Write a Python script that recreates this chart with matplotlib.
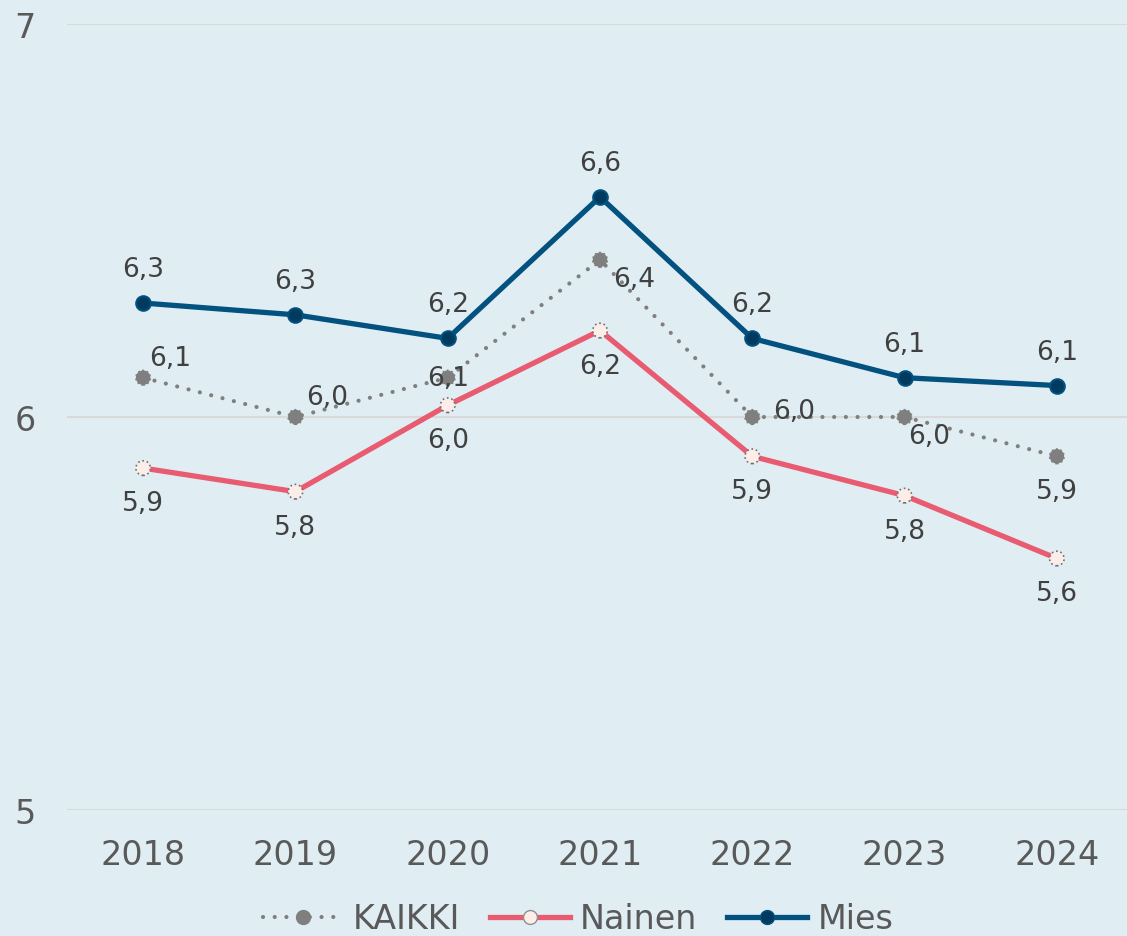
import matplotlib
matplotlib.use("Agg")
import matplotlib.pyplot as plt
from matplotlib.lines import Line2D

years = ["2018", "2019", "2020", "2021", "2022", "2023", "2024"]
kaikki = [6.10, 6.00, 6.10, 6.40, 6.00, 6.00, 5.90]
nainen = [5.87, 5.81, 6.03, 6.22, 5.90, 5.80, 5.64]
mies = [6.29, 6.26, 6.20, 6.56, 6.20, 6.10, 6.08]
yticks = [5, 6, 7]

BG = "#E0EDF3"
C_MIES = "#02517F"
C_MIES_FILL = "#003A5E"
C_NAI = "#E85B70"
C_NAI_FILL = "#FCEDE9"
C_KAI = "#7F7F7F"
TXT = "#595959"
LBL = "#404040"

plt.rcParams["font.family"] = ["DejaVu Sans"]

W, H = 1127, 937
fig = plt.figure(figsize=(W / 100, H / 100), dpi=100, facecolor=BG)
ax = fig.add_axes([67 / W, (H - 811) / H, 1066 / W, 786 / H], facecolor=BG)

x = list(range(len(years)))

# KAIKKI dotted
ax.plot(x, kaikki, color=C_KAI, lw=3.0, linestyle=(0, (0.01, 2.8)),
        dash_capstyle="round", zorder=3)
ax.scatter(x, kaikki, s=110, color=C_KAI, edgecolors=C_KAI, linewidths=1.2,
           linestyles=":", zorder=4)
# Nainen
ax.plot(x, nainen, color=C_NAI, lw=3.8, solid_capstyle="round", zorder=3)
ax.scatter(x, nainen, s=110, color=C_NAI_FILL, edgecolors="#707070",
           linewidths=1.2, linestyles=":", zorder=4)
# Mies
ax.plot(x, mies, color=C_MIES, lw=3.8, solid_capstyle="round", zorder=5)
ax.scatter(x, mies, s=110, color=C_MIES_FILL, edgecolors=C_MIES,
           linewidths=1.5, zorder=6)

def fmt(v):
    return f"{v:.1f}".replace(".", ",")

fs_lbl = 19
for i, v in enumerate(mies):
    ax.annotate(fmt(v), (i, v), xytext=(0, 34), textcoords="offset pixels",
                ha="center", va="center", fontsize=fs_lbl, color=LBL, zorder=7)
for i, v in enumerate(nainen):
    ax.annotate(fmt(v), (i, v), xytext=(0, -35), textcoords="offset pixels",
                ha="center", va="center", fontsize=fs_lbl, color=LBL, zorder=7)
k_off = [(27, 20), (32, 20), (0, 0), (34, -19), (42, 6), (25, -19), (0, -35)]
for i, v in enumerate(kaikki):
    dx, dy = k_off[i]
    ax.annotate(fmt(v), (i, v), xytext=(dx, dy), textcoords="offset pixels",
                ha="center", va="center", fontsize=fs_lbl, color=LBL, zorder=7)

ax.set_xlim(-0.5, len(years) - 0.5)
ax.set_ylim(5, 7)
ax.set_yticks(yticks)
ax.set_yticklabels([str(t) for t in yticks])
ax.set_xticks(x)
ax.set_xticklabels(years)
ax.tick_params(axis="both", length=0, labelsize=24, colors=TXT)
ax.tick_params(axis="x", pad=20)
for lab in ax.get_yticklabels():
    lab.set_horizontalalignment("center")
ax.tick_params(axis="y", pad=30)
ax.grid(axis="y", color="#D9D9D9", lw=1.5)
ax.set_axisbelow(True)
for s in ax.spines.values():
    s.set_visible(False)

handles = [
    Line2D([0], [0], color=C_KAI, lw=3.0, linestyle=(0, (0.01, 2.8)),
           dash_capstyle="round", marker="o", markersize=10,
           markerfacecolor=C_KAI, markeredgecolor=C_KAI),
    Line2D([0], [0], color=C_NAI, lw=3.8, marker="o", markersize=10,
           markerfacecolor=C_NAI_FILL, markeredgecolor="#909090",
           markeredgewidth=1),
    Line2D([0], [0], color=C_MIES, lw=3.8, marker="o", markersize=10,
           markerfacecolor=C_MIES_FILL, markeredgecolor=C_MIES),
]
leg = fig.legend(handles, ["KAIKKI", "Nainen", "Mies"], loc="center",
                 bbox_to_anchor=(578 / W, 1 - 920 / H), ncol=3, frameon=False,
                 fontsize=24, handlelength=2.4, handletextpad=0.3,
                 columnspacing=0.9, labelcolor=TXT)

fig.savefig("out.png", dpi=100, facecolor=BG)
